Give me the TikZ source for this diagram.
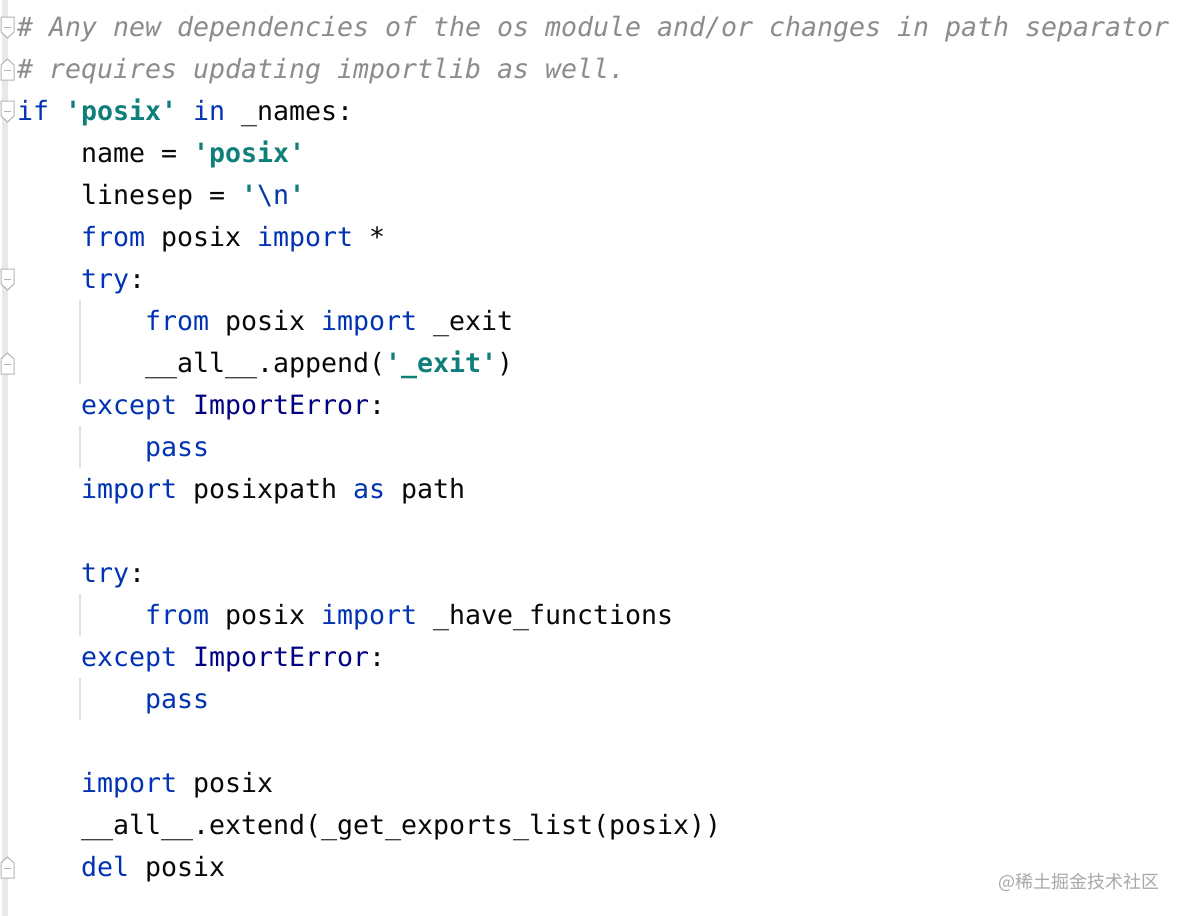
\documentclass[tikz,border=0pt]{standalone}
\usepackage{fontspec}
\newfontfamily\code{DejaVu Sans Mono}
\newfontfamily\cjk{Noto Sans CJK SC}
\definecolor{kw}{HTML}{0033B3}
\definecolor{strc}{HTML}{0F7F7A}
\definecolor{esc}{HTML}{0037A6}
\definecolor{cls}{HTML}{000080}
\definecolor{cmt}{HTML}{8C8C8C}
\definecolor{txt}{HTML}{080808}
\definecolor{guide}{HTML}{E2E2E2}
\definecolor{gutter}{HTML}{E8E8E8}
\definecolor{foldc}{HTML}{B4B4B4}
\definecolor{wm}{HTML}{A8A8A8}
\newcommand\sq{\char39\relax}
\newcommand\tk[4]{\node (t#2-#1) [tok,text=#3] at ({17+#1*16},{36.5+(#2-1)*42}) {#4};}
\newcommand\foldDown[2]{\draw[fold] (1,{#2-10}) -- (14,{#2-10}) -- (14,{#2+5}) -- (7.5,{#2+11}) -- (1,{#2+5}) -- cycle;
  \draw[foldc,line width=1pt] (4,{#2+0.5}) -- (11,{#2+0.5});}
\newcommand\foldUp[2]{\draw[fold] (1,{#2+11}) -- (14,{#2+11}) -- (14,{#2-4}) -- (7.5,{#2-10}) -- (1,{#2-4}) -- cycle;
  \draw[foldc,line width=1pt] (4,{#2+1.5}) -- (11,{#2+1.5});}
\begin{document}
\begin{tikzpicture}[x=1pt,y=-1pt,
  tok/.style={anchor=base west,inner sep=0pt,outer sep=0pt,font=\code\fontsize{26.58}{30}\selectfont},
  fold/.style={draw=foldc,fill=white,line width=1pt,line join=miter},
  guideline/.style={draw=guide,line width=1.6pt}]
\useasboundingbox (0,0) rectangle (1184,916);
\fill[white] (0,0) rectangle (1184,916);
% gutter
\fill[gutter] (2,0) rectangle (8,916);
\foldDown{a}{27}
\foldUp{b}{69}
\foldDown{c}{111}
\foldDown{d}{279}
\foldUp{e}{363}
\foldUp{f}{867}
% indent guides
\coordinate (g1a) at (80,300); \coordinate (g1b) at (80,384);
\coordinate (g2a) at (80,426); \coordinate (g2b) at (80,468);
\coordinate (g3a) at (80,594); \coordinate (g3b) at (80,636);
\coordinate (g4a) at (80,678); \coordinate (g4b) at (80,720);
\draw[guideline] (g1a) -- (g1b);
\draw[guideline] (g2a) -- (g2b);
\draw[guideline] (g3a) -- (g3b);
\draw[guideline] (g4a) -- (g4b);
% code
\tk{0}{1}{cmt}{\itshape \# Any new dependencies of the os module and/or changes in path separator}
\tk{0}{2}{cmt}{\itshape \# requires updating importlib as well.}
\tk{0}{3}{kw}{if}
\tk{3}{3}{strc}{\bfseries\sq posix\sq}
\tk{11}{3}{kw}{in}
\tk{14}{3}{txt}{\_names:}
\tk{4}{4}{txt}{name}
\tk{9}{4}{txt}{=}
\tk{11}{4}{strc}{\bfseries\sq posix\sq}
\tk{4}{5}{txt}{linesep}
\tk{12}{5}{txt}{=}
\tk{14}{5}{strc}{\bfseries\sq}
\tk{15}{5}{esc}{\char92 n}
\tk{17}{5}{strc}{\bfseries\sq}
\tk{4}{6}{kw}{from}
\tk{9}{6}{txt}{posix}
\tk{15}{6}{kw}{import}
\tk{22}{6}{txt}{*}
\tk{4}{7}{kw}{try}
\tk{7}{7}{txt}{:}
\tk{8}{8}{kw}{from}
\tk{13}{8}{txt}{posix}
\tk{19}{8}{kw}{import}
\tk{26}{8}{txt}{\_exit}
\tk{8}{9}{txt}{\_\_all\_\_.append(}
\tk{23}{9}{strc}{\bfseries\sq\_exit\sq}
\tk{30}{9}{txt}{)}
\tk{4}{10}{kw}{except}
\tk{11}{10}{cls}{ImportError}
\tk{22}{10}{txt}{:}
\tk{8}{11}{kw}{pass}
\tk{4}{12}{kw}{import}
\tk{11}{12}{txt}{posixpath}
\tk{21}{12}{kw}{as}
\tk{24}{12}{txt}{path}
\tk{4}{14}{kw}{try}
\tk{7}{14}{txt}{:}
\tk{8}{15}{kw}{from}
\tk{13}{15}{txt}{posix}
\tk{19}{15}{kw}{import}
\tk{26}{15}{txt}{\_have\_functions}
\tk{4}{16}{kw}{except}
\tk{11}{16}{cls}{ImportError}
\tk{22}{16}{txt}{:}
\tk{8}{17}{kw}{pass}
\tk{4}{19}{kw}{import}
\tk{11}{19}{txt}{posix}
\tk{4}{20}{txt}{\_\_all\_\_.extend(\_get\_exports\_list(posix))}
\tk{4}{21}{kw}{del}
\tk{8}{21}{txt}{posix}
% watermark
\node (wm) [anchor=east,inner sep=0pt,text=wm,font=\cjk\fontsize{18}{20}\selectfont] at (1160,882) {@稀土掘金技术社区};
\end{tikzpicture}
\end{document}
